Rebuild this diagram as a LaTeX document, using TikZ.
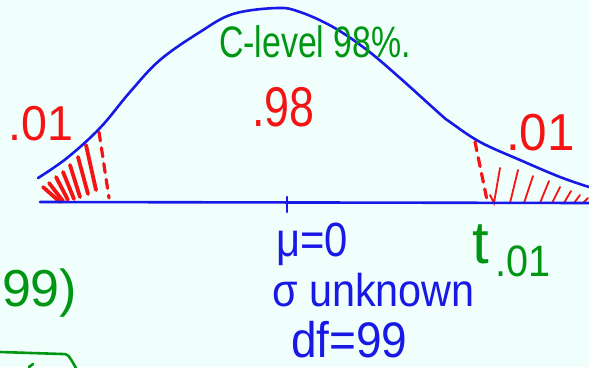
\documentclass[tikz,border=0pt]{standalone}
\usepackage{fontspec}
\setmainfont{Liberation Sans}
\definecolor{bg}{RGB}{240,255,252}
\definecolor{pblue}{RGB}{25,25,230}
\definecolor{pred}{RGB}{245,20,20}
\definecolor{pgreen}{RGB}{0,150,20}
\begin{document}
\begin{tikzpicture}[x=1pt,y=-1pt,
  lbl/.style={anchor=base west, inner sep=0pt, outer sep=0pt},
  bluepen/.style={pblue, line width=2.6pt, line cap=round, line join=round},
  hatchthick/.style={pred, line width=3.8pt, line cap=round},
  hatchthin/.style={pred, line width=1.8pt, line cap=round},
  reddash/.style={pred, line width=3.2pt, line cap=round, dash pattern=on 9pt off 7pt},
  greenpen/.style={pgreen, line width=2.6pt, line cap=round, line join=round}]
\fill[bg] (0,0) rectangle (589,367);
\useasboundingbox (0,0) rectangle (589,367);

% left tail hatching
\draw[hatchthick] (43,187) -- (60,202);
\draw[hatchthick] (49,183) -- (63,201);
\draw[hatchthick] (56,177) -- (68,200);
\draw[hatchthick] (63,172) -- (74,199);
\draw[hatchthick] (70,165) -- (80,197);
\draw[hatchthick] (78,157) -- (88,194);
\draw[hatchthick] (86,145) -- (96,190);
\draw[reddash] (99,132) -- (109,198);

% right tail hatching
\draw[reddash] (475,142) -- (487,200);
\draw[hatchthin] (490,195) -- (494,203) -- (500,168);
\draw[hatchthin] (510,203) -- (518,170);
\draw[hatchthin] (524,203) -- (533,176);
\draw[hatchthin] (540,203) -- (549,181);
\draw[hatchthin] (552,203) -- (560,187);
\draw[hatchthin] (564,203) -- (571,191);
\draw[hatchthin] (574,203) -- (580,195);
\draw[hatchthin] (583,203) -- (588,198);

% axis and curve
\draw[bluepen] (40,202) -- (589,203);
\draw[bluepen] plot[smooth, tension=0.6] coordinates {(38,178) (67,158) (100,128) (130,92) (160,60) (200,32) (233,14) (277,8) (300,12) (333,27) (367,50) (400,78) (440,114) (450,122) (480,142) (520,160) (560,177) (589,187)};
\draw[bluepen] (287,197) -- (287,212);

% labels
\node[lbl, pred, font=\fontsize{49}{52}\selectfont] (lt) at (9,140) {\scalebox{0.95}[1]{.01}};
\node[lbl, pred, font=\fontsize{56}{60}\selectfont] (mid) at (252,126) {\scalebox{0.8}[1]{.98}};
\node[lbl, pred, font=\fontsize{52}{56}\selectfont] (rt) at (506,150) {\scalebox{0.95}[1]{.01}};
\node[lbl, pgreen, font=\fontsize{44}{48}\selectfont] (cl) at (219,57) {\scalebox{0.77}[1]{C-level 98\%.}};
\node[lbl, pblue, font=\fontsize{48}{52}\selectfont] (mu) at (276,256) {\scalebox{0.87}[1]{μ=0}};
\node[lbl, pblue, font=\fontsize{46}{50}\selectfont] (sig) at (272,306) {\scalebox{0.9}[1]{σ unknown}};
\node[lbl, pblue, font=\fontsize{50}{54}\selectfont] (df) at (291,357) {\scalebox{0.92}[1]{df=99}};
\node[lbl, pgreen, font=\fontsize{60}{64}\selectfont] (t) at (472,263) {t};
\node[lbl, pgreen, font=\fontsize{44}{48}\selectfont] (tsub) at (495,276) {\scalebox{0.9}[1]{.01}};
\node[lbl, pgreen, font=\fontsize{52}{56}\selectfont] (nn) at (2,306) {99)};

% bottom-left green stroke
\draw[greenpen] (0,352) -- (62,354) .. controls (68,354) .. (76,368);
\draw[greenpen] (29,367) -- (33,364);
\end{tikzpicture}
\end{document}
